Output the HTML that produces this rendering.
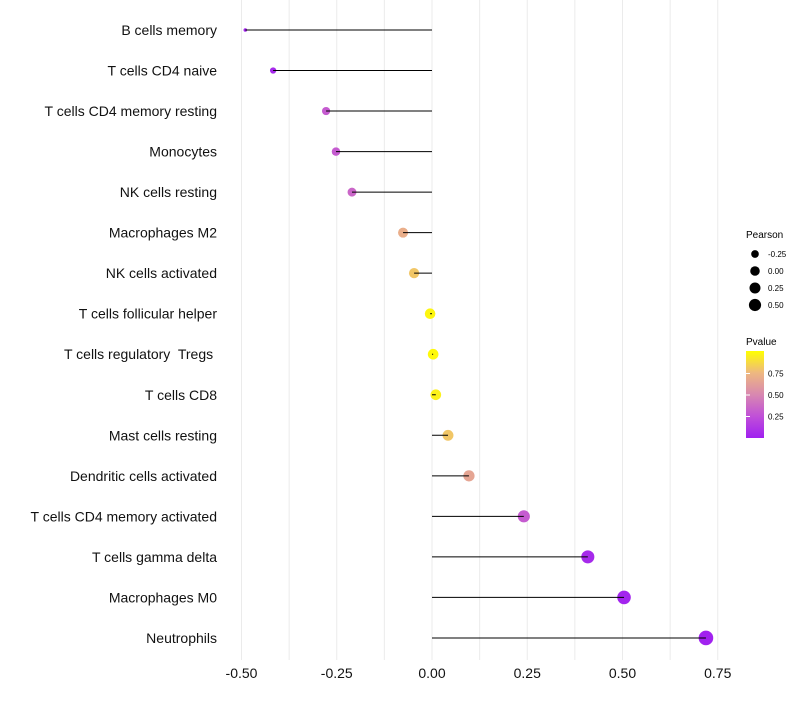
<!DOCTYPE html>
<html><head><meta charset="utf-8"><style>
body{margin:0;background:#fff;font-family:"Liberation Sans",sans-serif;}
text{white-space:pre;}
</style></head><body>
<svg id="chart" width="800" height="700" xmlns="http://www.w3.org/2000/svg">
<defs><linearGradient id="pg" x1="0" y1="1" x2="0" y2="0">
<stop offset="0" stop-color="#a020f0"/><stop offset="0.25" stop-color="#c050d8"/><stop offset="0.5" stop-color="#d888b0"/><stop offset="0.75" stop-color="#eeb880"/><stop offset="1" stop-color="#ffff00"/></linearGradient></defs>
<g id="grid"></g><g id="marks"></g><g id="labels"></g>
<g font-size="9">
<text x="746" y="238" font-size="10">Pearson</text>
<g id="sizeleg"></g>
<text x="746" y="345" font-size="10">Pvalue</text>
<rect x="746" y="351" width="18" height="87" fill="url(#pg)"/>
<g id="cbticks"></g>
</g>
</svg>
<script>
const categories=["B cells memory","T cells CD4 naive","T cells CD4 memory resting","Monocytes","NK cells resting","Macrophages M2","NK cells activated","T cells follicular helper","T cells regulatory  Tregs ","T cells CD8","Mast cells resting","Dendritic cells activated","T cells CD4 memory activated","T cells gamma delta","Macrophages M0","Neutrophils"];
const pearson=[-0.49,-0.417,-0.278,-0.252,-0.21,-0.076,-0.047,-0.005,0.003,0.01,0.042,0.097,0.241,0.409,0.504,0.719];
const pvalue=[0.02,0.05,0.3,0.3,0.35,0.7,0.8,0.97,0.98,0.95,0.8,0.65,0.3,0.05,0.02,0.01];
const xTicks=[-0.5,-0.25,0,0.25,0.5,0.75];
const xTickLabels=["-0.50","-0.25","0.00","0.25","0.50","0.75"];
const sizeLegend=[-0.25,0,0.25,0.5];
const cbTicks=[0.25,0.5,0.75];
const NS="http://www.w3.org/2000/svg";
const x=v=>432+v*381;
const y=i=>30+i*40.53;
const r=v=>1.8+5.5*Math.sqrt(Math.max(0,(v+0.49)/1.21));
const cy=p=>438-p*86;
function col(p){const s=[[0,[160,32,240]],[0.25,[192,80,216]],[0.5,[216,136,176]],[0.75,[238,184,128]],[1,[255,255,0]]];
for(let k=0;k<4;k++){if(p<=s[k+1][0]){const t=(p-s[k][0])/(s[k+1][0]-s[k][0]);const c=s[k][1].map((a,j)=>Math.round(a+(s[k+1][1][j]-a)*t));return`rgb(${c})`;}}return"rgb(255,255,0)";}
function mk(t,a,p){const e=document.createElementNS(NS,t);for(const k in a)e.setAttribute(k,a[k]);if(p)document.getElementById(p).appendChild(e);return e;}
for(let v=-0.5;v<=0.751;v+=0.125){const g=mk("line",{x1:x(v),x2:x(v),y1:0,y2:660,stroke:"#ebebeb","stroke-width":1},"grid");

}
xTicks.forEach((v,i)=>{const t=mk("text",{x:x(v),y:678,"text-anchor":"middle","font-size":14,fill:"#111"},"labels");t.textContent=xTickLabels[i];

});
categories.forEach((c,i)=>{const t=mk("text",{x:217,y:y(i)+5,"text-anchor":"end","font-size":14,fill:"#111"},"labels");t.textContent=c;


const pt=mk("circle",{cx:x(pearson[i]),cy:y(i),r:r(pearson[i]),fill:col(pvalue[i])},"marks");


const ln=mk("line",{x1:x(0),x2:x(pearson[i]),y1:y(i),y2:y(i),stroke:"#000","stroke-width":1},"marks");

});
sizeLegend.forEach((v,i)=>{const yy=254+i*17;const c=mk("circle",{cx:755,cy:yy,r:r(v)*0.9,fill:"#000"},"sizeleg");


const t=mk("text",{x:768,y:yy+3,"font-size":8},"sizeleg");t.textContent=v.toFixed(2);

});
cbTicks.forEach(p=>{const t=mk("text",{x:768,y:cy(p)+3,"font-size":8},"cbticks");t.textContent=p.toFixed(2);


mk("line",{x1:746,x2:750,y1:cy(p),y2:cy(p),stroke:"#fff"},"cbticks");});
</script>
</body></html>
